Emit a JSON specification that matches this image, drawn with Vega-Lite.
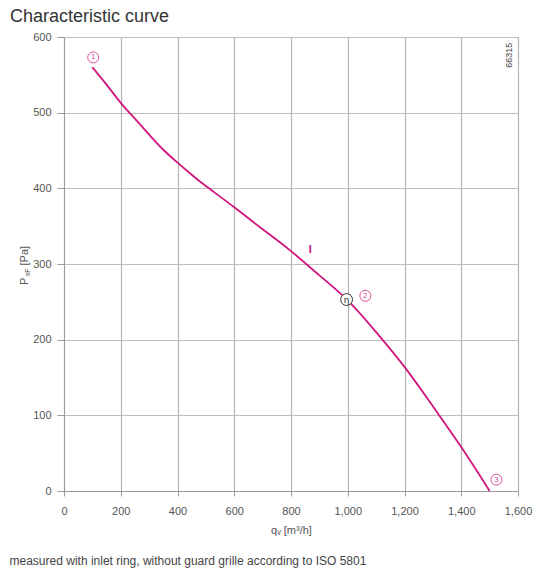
{
  "$schema": "https://vega.github.io/schema/vega-lite/v6.json",
  "width": 454,
  "height": 454,
  "autosize": {"type": "none"},
  "padding": {"left": 64, "top": 37, "right": 24, "bottom": 82},
  "background": "white",
  "title": {
    "text": "Characteristic curve",
    "anchor": "start",
    "frame": "group",
    "dx": -54,
    "offset": 5,
    "font": "Liberation Sans",
    "fontSize": 18,
    "fontWeight": "normal",
    "color": "#333333"
  },
  "config": {
    "view": {"stroke": null},
    "axis": {
      "labelFont": "Liberation Sans",
      "labelFontSize": 11,
      "labelColor": "#555555",
      "titleFont": "Liberation Sans",
      "titleFontSize": 11,
      "titleFontWeight": "normal",
      "titleColor": "#555555",
      "domainColor": "#9a9a9a",
      "gridWidth": 1.2
    }
  },
  "datasets": {
    "curve": [
      {"q": 100, "p": 560},
      {"q": 150, "p": 537},
      {"q": 200, "p": 513},
      {"q": 250, "p": 492},
      {"q": 300, "p": 471},
      {"q": 350, "p": 451},
      {"q": 400, "p": 434},
      {"q": 450, "p": 418},
      {"q": 500, "p": 403},
      {"q": 600, "p": 375},
      {"q": 700, "p": 346},
      {"q": 800, "p": 317},
      {"q": 900, "p": 285},
      {"q": 1000, "p": 252},
      {"q": 1100, "p": 210},
      {"q": 1200, "p": 164},
      {"q": 1300, "p": 112},
      {"q": 1400, "p": 58},
      {"q": 1500, "p": 0}
    ],
    "points": [
      {"q": 103, "p": 573, "n": "1"},
      {"q": 1062, "p": 258, "n": "2"},
      {"q": 1524, "p": 15, "n": "3"}
    ],
    "eta": [{"q": 996, "p": 253, "t": "η"}],
    "curvelabel": [{"q": 868, "p": 319, "t": "I"}],
    "code": [{"q": 1567, "p": 576, "t": "66315"}],
    "ytitle": [
      {"q": -136, "p": 277, "t": "P"},
      {"q": -136, "p": 311, "t": "[Pa]"}
    ],
    "ysub": [{"q": -128, "p": 289, "t": "sF"}],
    "footer": [{"q": -192, "p": -92, "t": "measured with inlet ring, without guard grille according to ISO 5801"}]
  },
  "layer": [
    {
      "data": {"name": "curve"},
      "mark": {"type": "line", "color": "#d0157f", "strokeWidth": 1.8, "interpolate": "natural"},
      "encoding": {
        "x": {
          "field": "q",
          "type": "quantitative",
          "scale": {"domain": [0, 1600], "nice": false, "zero": false},
          "axis": {
            "title": "qᵥ [m³/h]",
            "values": [0, 100, 200, 300, 400, 500, 600, 700, 800, 900, 1000, 1100, 1200, 1300, 1400, 1500, 1600],
            "labelExpr": "datum.value % 200 === 0 ? format(datum.value, ',') : ''",
            "gridColor": {"condition": {"test": "datum.value % 200 === 0", "value": "#b4b4b4"}, "value": "#d8d8d8"},
            "tickColor": {"condition": {"test": "datum.value % 200 === 0", "value": "#9a9a9a"}, "value": "transparent"},
            "tickSize": 5,
            "labelPadding": 9,
            "titlePadding": 8,
            "labelFlush": false
          }
        },
        "y": {
          "field": "p",
          "type": "quantitative",
          "scale": {"domain": [0, 600], "nice": false, "zero": false},
          "axis": {
            "title": null,
            "values": [0, 50, 100, 150, 200, 250, 300, 350, 400, 450, 500, 550, 600],
            "labelExpr": "datum.value % 100 === 0 ? datum.label : ''",
            "gridColor": "#bdbdbd",
            "tickColor": {"condition": {"test": "datum.value % 100 === 0", "value": "#9a9a9a"}, "value": "transparent"},
            "tickSize": 7,
            "labelPadding": 6,
            "labelFlush": false
          }
        }
      }
    },
    {
      "data": {"name": "points"},
      "mark": {"type": "point", "shape": "circle", "size": 120, "filled": false, "fill": "white", "fillOpacity": 1, "stroke": "#e0489c", "strokeWidth": 1},
      "encoding": {
        "x": {"field": "q", "type": "quantitative"},
        "y": {"field": "p", "type": "quantitative"}
      }
    },
    {
      "data": {"name": "points"},
      "mark": {"type": "text", "font": "Liberation Sans", "fontSize": 8, "color": "#e0489c", "baseline": "middle", "align": "center"},
      "encoding": {
        "x": {"field": "q", "type": "quantitative"},
        "y": {"field": "p", "type": "quantitative"},
        "text": {"field": "n"}
      }
    },
    {
      "data": {"name": "eta"},
      "mark": {"type": "point", "shape": "circle", "size": 140, "filled": false, "fill": "white", "fillOpacity": 1, "stroke": "#333333", "strokeWidth": 1},
      "encoding": {
        "x": {"field": "q", "type": "quantitative"},
        "y": {"field": "p", "type": "quantitative"}
      }
    },
    {
      "data": {"name": "eta"},
      "mark": {"type": "text", "font": "DejaVu Sans", "fontSize": 9, "color": "#222222", "baseline": "middle", "align": "center"},
      "encoding": {
        "x": {"field": "q", "type": "quantitative"},
        "y": {"field": "p", "type": "quantitative"},
        "text": {"field": "t"}
      }
    },
    {
      "data": {"name": "curvelabel"},
      "mark": {"type": "text", "font": "Liberation Sans", "fontSize": 11, "fontWeight": "bold", "color": "#c2147a", "baseline": "middle", "align": "center"},
      "encoding": {
        "x": {"field": "q", "type": "quantitative"},
        "y": {"field": "p", "type": "quantitative"},
        "text": {"field": "t"}
      }
    },
    {
      "data": {"name": "code"},
      "mark": {"type": "text", "font": "Liberation Sans", "fontSize": 9, "color": "#444444", "angle": 270, "baseline": "middle", "align": "center"},
      "encoding": {
        "x": {"field": "q", "type": "quantitative"},
        "y": {"field": "p", "type": "quantitative"},
        "text": {"field": "t"}
      }
    },
    {
      "data": {"name": "ytitle"},
      "mark": {"type": "text", "font": "Liberation Sans", "fontSize": 11, "color": "#555555", "angle": 270, "baseline": "middle", "align": "center"},
      "encoding": {
        "x": {"field": "q", "type": "quantitative"},
        "y": {"field": "p", "type": "quantitative"},
        "text": {"field": "t"}
      }
    },
    {
      "data": {"name": "ysub"},
      "mark": {"type": "text", "font": "Liberation Sans", "fontSize": 7, "color": "#555555", "angle": 270, "baseline": "middle", "align": "center"},
      "encoding": {
        "x": {"field": "q", "type": "quantitative"},
        "y": {"field": "p", "type": "quantitative"},
        "text": {"field": "t"}
      }
    },
    {
      "data": {"name": "footer"},
      "mark": {"type": "text", "font": "Liberation Sans", "fontSize": 12, "color": "#444444", "baseline": "middle", "align": "left"},
      "encoding": {
        "x": {"field": "q", "type": "quantitative"},
        "y": {"field": "p", "type": "quantitative"},
        "text": {"field": "t"}
      }
    }
  ]
}
